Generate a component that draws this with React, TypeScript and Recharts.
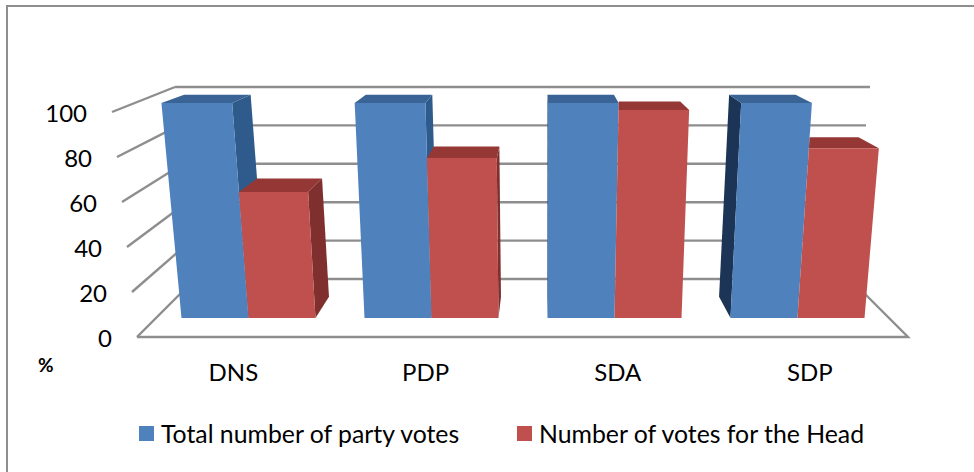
import React from 'react';
import { BarChart, Bar, XAxis, YAxis, CartesianGrid, Legend } from 'recharts';

const categories = ['DNS', 'PDP', 'SDA', 'SDP'];
const totalVotes = [100, 100, 100, 100];
const headVotes = [58.6, 74.4, 96.7, 79];
const yTicks = [0, 20, 40, 60, 80, 100];
const seriesNames = ['Total number of party votes', 'Number of votes for the Head'];

const chartData = categories.map((name, i) => ({ name, total: totalVotes[i], head: headVotes[i] }));

const FONT = 'Lato, Carlito, sans-serif';
const W = 974;
const H = 472;
const PLOT_TOP = 103;
const PLOT_BOTTOM = 318;
const VP_X = 540;
const VP_Y = -35;
const DEPTH = 0.06;
const FLARE = 0.056;
const GRID = '#8e8e8e';

const valueAt = (y: number) => ((PLOT_BOTTOM - y) / (PLOT_BOTTOM - PLOT_TOP)) * 100;
const flare = (xb: number, v: number) => VP_X + (xb - VP_X) * (1 + (FLARE * v) / 100);
const back = (x: number, y: number): [number, number] => [x + (VP_X - x) * DEPTH, y + (VP_Y - y) * DEPTH];
const pts = (p: [number, number][]) => p.map((q) => q.join(',')).join(' ');

const frontY = (v: number) => 337 - 2.25 * v;
const frontX = (v: number) => 137 - 0.25 * v;
const backY = (v: number) => 279 - 1.92 * v;
const backLX = (v: number) => 195 - 0.2 * v;
const backRX = (v: number) => 850 + 0.2 * v;

const GridLine = (props: any) => {
  const v = Math.round(valueAt(props.y1));
  return (
    <g stroke={GRID} strokeWidth={2.4} fill="none" key={v}>
      <line x1={frontX(v)} y1={frontY(v)} x2={backLX(v)} y2={backY(v)} />
      <line x1={backLX(v)} y1={backY(v)} x2={backRX(v)} y2={backY(v)} />
      {v === 0 && <polyline points={`${frontX(0)},${frontY(0)} 908,${frontY(0)} ${backRX(0)},${backY(0)}`} />}
    </g>
  );
};

const makeBar = (front: string, top: string, sideRight: string, sideLeft: string, clipLeft: boolean) => (props: any) => {
  const { x, y, width, height } = props;
  const v = (height / (PLOT_BOTTOM - PLOT_TOP)) * 100;
  const xl = x;
  const xr = x + width;
  const yb = y + height;
  const tl: [number, number] = [flare(xl, v), y];
  const tr: [number, number] = [flare(xr, v), y];
  const bl: [number, number] = [xl, yb];
  const br: [number, number] = [xr, yb];
  const btl = back(tl[0], tl[1]);
  const btr = back(tr[0], tr[1]);
  const bbl = back(bl[0], bl[1]);
  const bbr = back(br[0], br[1]);
  const topLeft: [number, number] =
    clipLeft && xl > VP_X ? [flare(xl, valueAt(btl[1])), btl[1]] : btl;
  return (
    <g>
      {xr < VP_X && <polygon points={pts([tr, btr, bbr, br])} fill={sideRight} />}
      {xl > VP_X && !clipLeft && <polygon points={pts([tl, btl, bbl, bl])} fill={sideLeft} />}
      <polygon points={pts([tl, topLeft, btr, tr])} fill={top} />
      <polygon points={pts([tl, tr, br, bl])} fill={front} />
    </g>
  );
};

const BlueBar = makeBar('#4f81bd', '#3a6496', '#2f5a8c', '#1c3557', false);
const RedBar = makeBar('#c0504d', '#953735', '#7f2f2d', '#7f2f2d', true);

const YTick = (props: any) => {
  const v = props.payload.value;
  return (
    <text x={frontX(v) - 25} y={frontY(v) + 4} textAnchor="end" dominantBaseline="middle" fontFamily={FONT} fontSize={24} fill="#000">
      {v}
    </text>
  );
};

const XTick = (props: any) => (
  <text x={VP_X + (props.x - VP_X) * 1.05} y={375} textAnchor="middle" dominantBaseline="middle" fontFamily={FONT} fontSize={24} fill="#000">
    {props.payload.value}
  </text>
);

const LegendContent = (props: any) => (
  <div style={{ position: 'relative', height: 30, fontFamily: FONT, fontSize: 24.8, color: '#000' }}>
    {props.payload.map((item: any, i: number) => (
      <div key={item.value} style={{ position: 'absolute', left: i === 0 ? 0 : 378, top: 0, display: 'flex', alignItems: 'center', whiteSpace: 'nowrap', height: 30 }}>
        <span style={{ display: 'inline-block', width: 15, height: 15, background: item.color, marginRight: 7 }} />
        {item.value}
      </div>
    ))}
  </div>
);

export default function App() {
  return (
    <div style={{ position: 'absolute', left: 0, top: 0, width: W, height: H, background: '#fff', overflow: 'hidden' }}>
      <div style={{ position: 'absolute', left: 6, top: 5, right: 0, bottom: 0, borderTop: '2px solid #8e8e8e', borderLeft: '2px solid #8e8e8e' }} />
      <BarChart
        width={W}
        height={H}
        data={chartData}
        margin={{ top: PLOT_TOP, bottom: 0, left: 96.5, right: W - 888.5 }}
        barSize={67}
        barGap={0}
      >
        <CartesianGrid vertical={false} horizontal={GridLine as any} />
        <XAxis dataKey="name" axisLine={false} tickLine={false} tick={XTick as any} interval={0} height={H - PLOT_BOTTOM - 30} />
        <YAxis domain={[0, 100]} ticks={yTicks} axisLine={false} tickLine={false} tick={YTick as any} width={60} />
        <Bar dataKey="total" name={seriesNames[0]} fill="#4f81bd" isAnimationActive={false} shape={BlueBar as any} />
        <Bar dataKey="head" name={seriesNames[1]} fill="#c0504d" isAnimationActive={false} shape={RedBar as any} />
        <Legend content={LegendContent as any} itemSorter={null as any} wrapperStyle={{ left: 139, top: 418, width: 780, bottom: 'auto' }} />
      </BarChart>
      <div style={{ position: 'absolute', left: 38, top: 353, fontFamily: 'Lato, sans-serif', fontWeight: 700, fontSize: 19, color: '#000' }}>%</div>
    </div>
  );
}
